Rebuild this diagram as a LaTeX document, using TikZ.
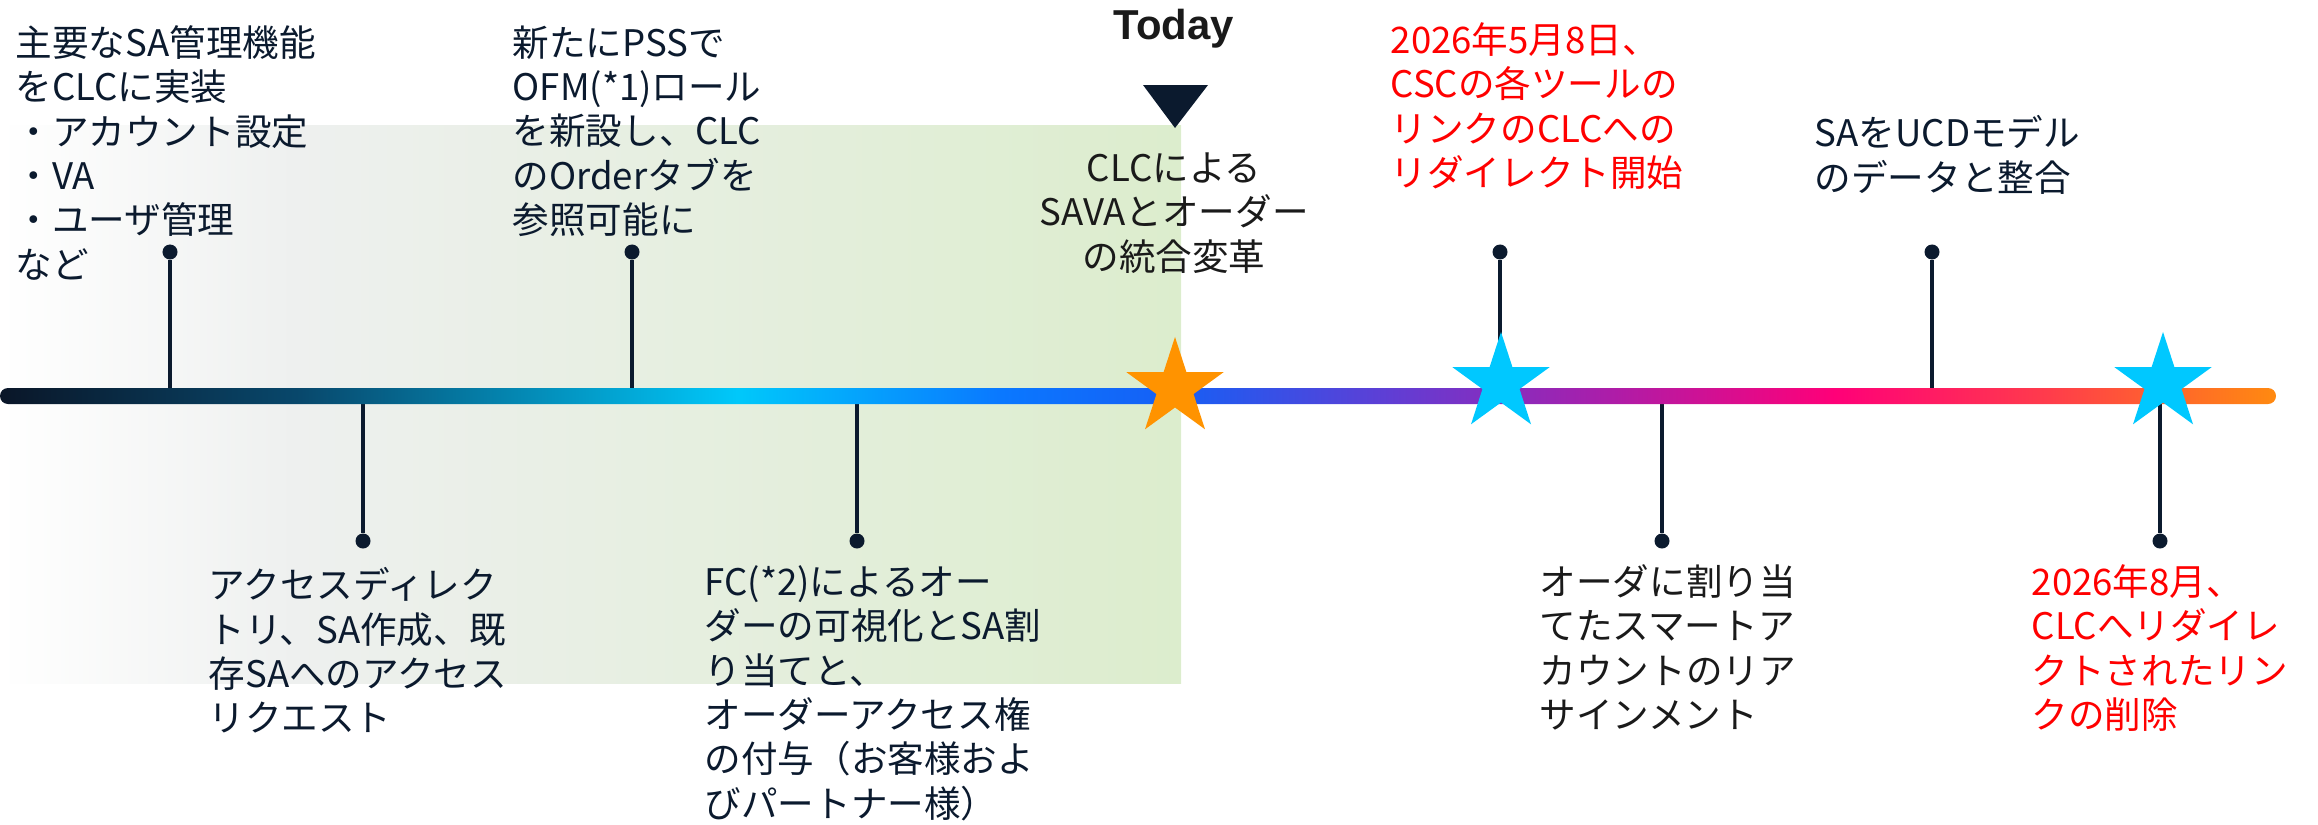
\documentclass[tikz,border=0pt]{standalone}
\usepackage{fontspec}
\setmainfont{Noto Sans CJK JP}
\newfontfamily\todayfont{Liberation Sans}
\usepackage{tikz}
\usetikzlibrary{shapes.geometric}

\definecolor{navy}{HTML}{0B1A2E}
\definecolor{inkblack}{HTML}{1A1A1A}
\definecolor{alertred}{HTML}{FF0000}
\definecolor{starorange}{HTML}{FF9300}
\definecolor{starcyan}{HTML}{00C8FF}
% timeline bar colours
\definecolor{bar0}{RGB}{10,22,40}
\definecolor{bar1}{RGB}{8,72,108}
\definecolor{bar2}{RGB}{0,200,250}
\definecolor{bar3}{RGB}{10,120,255}
\definecolor{bar4}{RGB}{22,95,245}
\definecolor{bar5}{RGB}{100,60,210}
\definecolor{bar6}{RGB}{170,30,170}
\definecolor{bar7}{RGB}{255,0,120}
\definecolor{bar8}{RGB}{255,60,75}
\definecolor{bar9}{RGB}{255,138,16}
% past area colours
\definecolor{past0}{HTML}{FFFFFF}
\definecolor{past1}{HTML}{EEF0EF}
\definecolor{past2}{HTML}{DCEDCD}

\pgfdeclarehorizontalshading{barshade}{100bp}{color(0bp)=(bar0); color(25bp)=(bar0);
  color(31.6bp)=(bar1); color(41.2bp)=(bar2); color(47bp)=(bar3); color(50.8bp)=(bar4);
  color(55.8bp)=(bar5); color(60.2bp)=(bar6); color(65.3bp)=(bar7); color(70bp)=(bar8);
  color(75bp)=(bar9); color(100bp)=(bar9)}
\pgfdeclarehorizontalshading{pastshade}{100bp}{color(0bp)=(past0); color(25bp)=(past0);
  color(37.5bp)=(past1); color(75bp)=(past2); color(100bp)=(past2)}

\tikzset{
  note/.style={anchor=north west, inner sep=0pt, align=left, text=navy,
    font=\fontsize{10.4}{12.6}\selectfont},
  pindot/.style={circle, fill=navy, inner sep=0pt, minimum size=0.15cm},
  pinline/.style={draw=navy, line width=1.3pt},
  starmark/.style={star, star points=5, star point ratio=2.618, minimum size=1.02cm,
    inner sep=0pt, draw=none}
}

\begin{document}
\begin{tikzpicture}[x=0.01cm, y=-0.01cm]
    \useasboundingbox (0,0) rectangle (2318,824);

    % past area
    \shade[shading=pastshade] (0,125) rectangle (1181,683);

    % pins above the bar
    \foreach \px [count=\i] in {170,632,1500,1932} {
        \node[pindot] (top\i) at (\px,252) {};
        \coordinate (topbar\i) at (\px,396);
        \draw[pinline] (top\i) -- (topbar\i);
    }
    % pins below the bar
    \foreach \px [count=\i] in {363,857,1662,2160} {
        \node[pindot] (bot\i) at (\px,541) {};
        \coordinate (botbar\i) at (\px,396);
        \draw[pinline] (bot\i) -- (botbar\i);
    }

    % timeline
    \shade[shading=barshade, rounded corners=0.08cm] (0,388) rectangle (2276,404);

    \node[starmark, fill=starorange] (now) at (1175,388) {};
    \node[starmark, fill=starcyan] (may) at (1501,383) {};
    \node[starmark, fill=starcyan] (aug) at (2163,383) {};

    % today marker
    \node[anchor=base, inner sep=0pt, text=inkblack, font=\todayfont\bfseries\fontsize{11.9}{14}\selectfont] (today) at (1174,40) {Today};
    \coordinate (triL) at (1143,85);
    \coordinate (triR) at (1208,85);
    \coordinate (triB) at (1175,128);
    \fill[navy] (triL) -- (triR) -- (triB) -- cycle;

    % texts above
    \node[note] (t1) at (15,25) {主要なSA管理機能\\をCLCに実装\\・アカウント設定\\・VA\\・ユーザ管理\\など};
    \node[note] (t2) at (512,25) {新たにPSSで\\OFM(*1)ロール\\を新設し、CLC\\のOrderタブを\\参照可能に};
    \node[note, anchor=north, align=center, text=inkblack] (t3) at (1174,152) {CLCによる\\SAVAとオーダー\\の統合変革};
    \node[note, text=alertred] (t4) at (1390,22) {2026年5月8日、\\CSCの各ツールの\\リンクのCLCへの\\リダイレクト開始};
    \node[note] (t5) at (1814,115) {SAをUCDモデル\\のデータと整合};

    % texts below
    \node[note] (b1) at (208,567) {アクセスディレク\\トリ、SA作成、既\\存SAへのアクセス\\リクエスト};
    \node[note] (b2) at (704,565) {FC(*2)によるオー\\ダーの可視化とSA割\\り当てと、\\オーダーアクセス権\\の付与（お客様およ\\びパートナー様）};
    \node[note, text=inkblack] (b3) at (1539,564) {オーダに割り当\\てたスマートア\\カウントのリア\\サインメント};
    \node[note, text=alertred] (b4) at (2031,564) {2026年8月、\\CLCへリダイレ\\クトされたリン\\クの削除};
\end{tikzpicture}
\end{document}
